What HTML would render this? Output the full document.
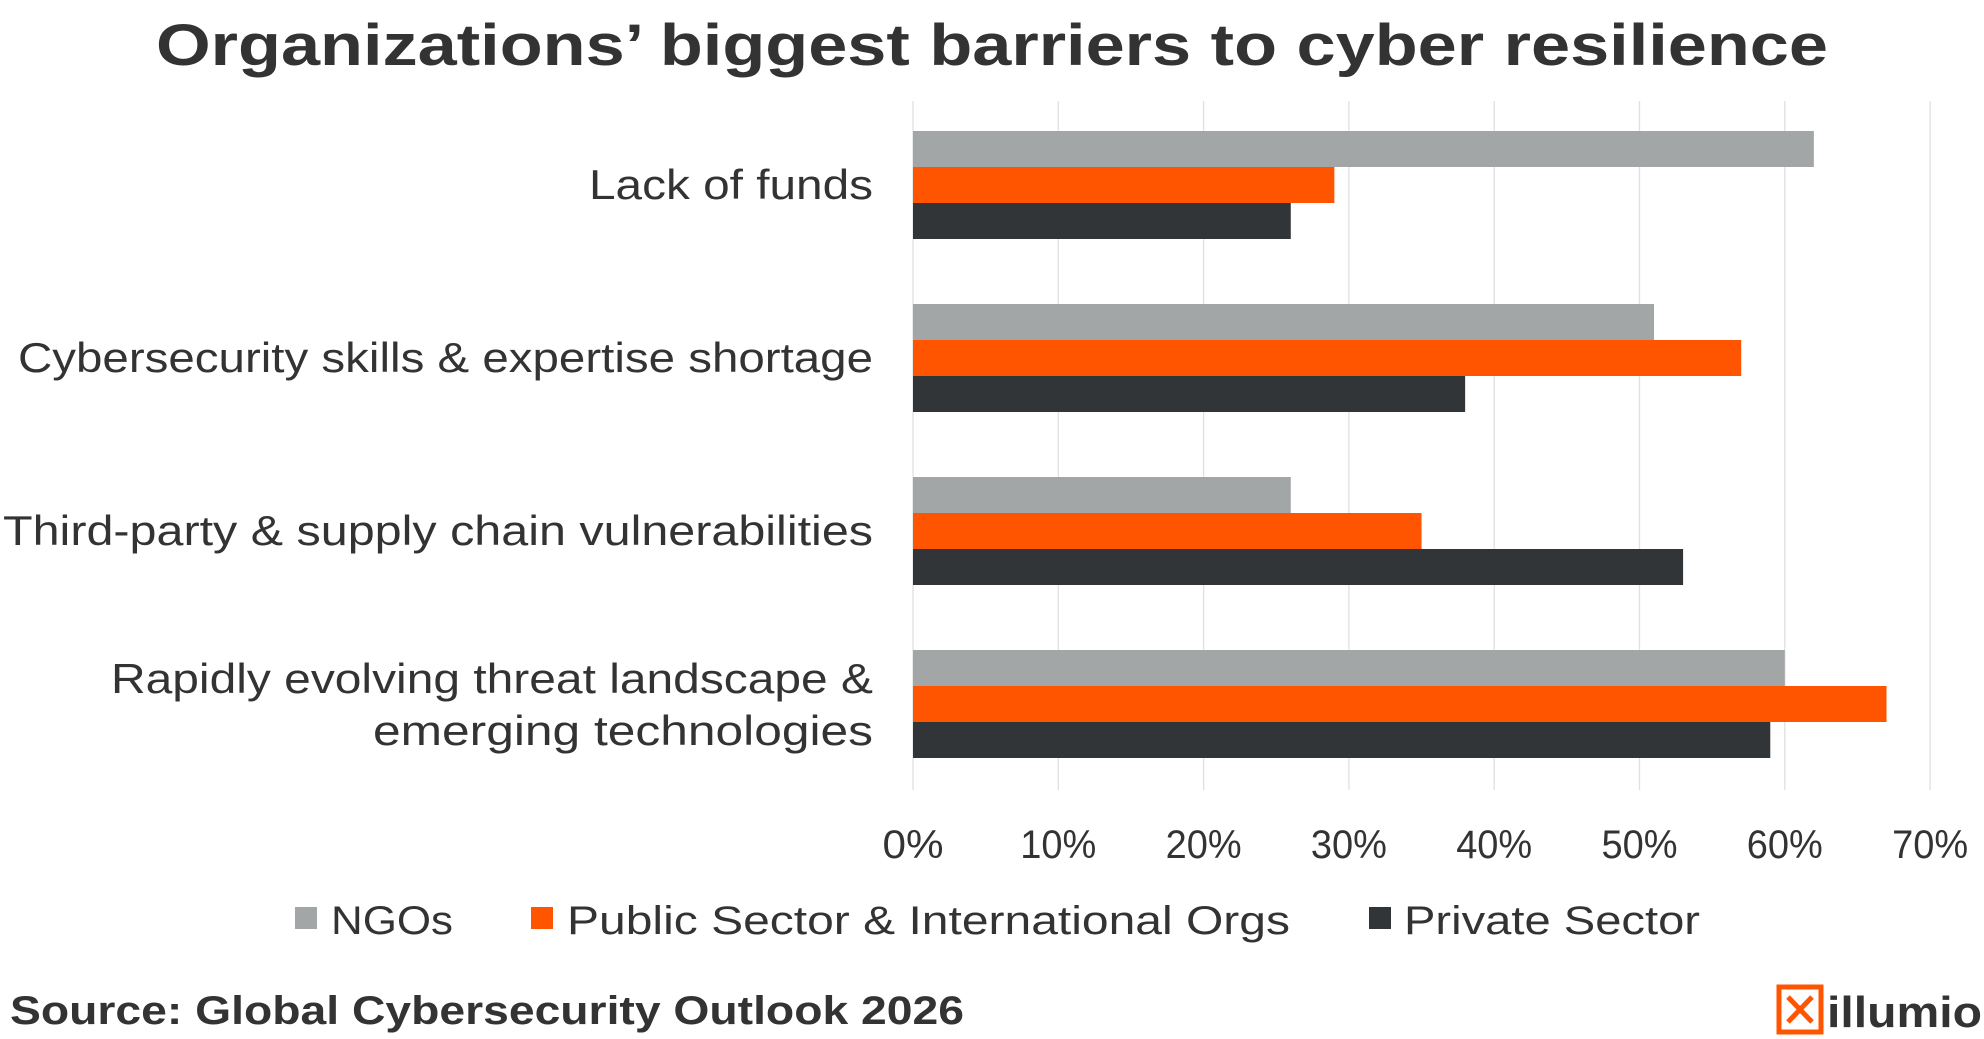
<!DOCTYPE html>
<html><head><meta charset="utf-8"><style>html,body{margin:0;padding:0;background:#fff}svg{display:block}text{font-family:"Liberation Sans",sans-serif;fill:#333}</style></head>
<body>
<svg id="chart" width="1984" height="1039" viewBox="0 0 1984 1039">
<text x="992" y="65" text-anchor="middle" font-size="58" font-weight="bold" textLength="1672" lengthAdjust="spacingAndGlyphs">Organizations’ biggest barriers to cyber resilience</text>
<g id="grid"></g>
<g id="bars"></g>
<g id="labels"></g>
<g id="ticks"></g>
<g>
<rect x="295" y="907" width="22" height="22" fill="#a3a6a6"/>
<text x="331" y="934" font-size="40" textLength="122" lengthAdjust="spacingAndGlyphs">NGOs</text>
<rect x="531" y="907" width="22" height="22" fill="#ff5500"/>
<text x="567" y="934" font-size="40" textLength="723" lengthAdjust="spacingAndGlyphs">Public Sector &amp; International Orgs</text>
<rect x="1369" y="907" width="22" height="22" fill="#323538"/>
<text x="1404" y="934" font-size="40" textLength="296" lengthAdjust="spacingAndGlyphs">Private Sector</text>
</g>
<text x="10" y="1024" font-size="40" font-weight="bold" textLength="954" lengthAdjust="spacingAndGlyphs">Source: Global Cybersecurity Outlook 2026</text>
<g>
<rect x="1779" y="987" width="42" height="45" fill="none" stroke="#ff5500" stroke-width="5"/>
<path d="M1788 997 L1812 1022 M1812 997 L1788 1022" stroke="#ff5500" stroke-width="5"/>
<text x="1827" y="1027" font-size="44" font-weight="bold" textLength="155" lengthAdjust="spacingAndGlyphs">illumio</text>
</g>
</svg>
<script>
const categories = [["Lack of funds"],["Cybersecurity skills & expertise shortage"],["Third-party & supply chain vulnerabilities"],["Rapidly evolving threat landscape &","emerging technologies"]];
const ngos = [62, 51, 26, 60];
const publicSector = [29, 57, 35, 67];
const privateSector = [26, 38, 53, 59];
const tickValues = [0,10,20,30,40,50,60,70];
const tickLabels = ["0%","10%","20%","30%","40%","50%","60%","70%"];

const NS="http://www.w3.org/2000/svg";
const x0=913, pxPer=14.53;
const xs=v=>x0+v*pxPer;
const groupTop=i=>131+i*173;
const barH=36;
function mk(tag,attrs,parent){const e=document.createElementNS(NS,tag);for(const k in attrs)e.setAttribute(k,attrs[k]);parent.appendChild(e);return e;}
const grid=document.getElementById('grid'),bars=document.getElementById('bars'),labels=document.getElementById('labels'),ticks=document.getElementById('ticks');
tickValues.forEach((v,i)=>{
  const l=mk('line',{x1:xs(v),x2:xs(v),y1:101,y2:790,stroke:'#e0e0e0','stroke-width':1.3},grid);
  
  
  const t=mk('text',{x:xs(v),y:858,'text-anchor':'middle','font-size':40,textLength:tickLabels[i].length>2?76:61,lengthAdjust:'spacingAndGlyphs'},ticks);
  t.textContent=tickLabels[i];
  
  
});
const series=[[ngos,'#a3a6a6','ngos'],[publicSector,'#ff5500','public-sector'],[privateSector,'#323538','private-sector']];
const labelWidths=[[284],[855],[870],[762,500]];
categories.forEach((lines,i)=>{
  series.forEach((s,j)=>{
    const r=mk('rect',{x:x0,y:groupTop(i)+j*barH,width:xs(s[0][i])-x0,height:barH,fill:s[1]},bars);
    
    
  });
  const cy=groupTop(i)+54;
  lines.forEach((ln,k)=>{
    const y=lines.length===1?cy+14:cy-11+k*52;
    const t=mk('text',{x:873,y:y,'text-anchor':'end','font-size':42,textLength:labelWidths[i][k],lengthAdjust:'spacingAndGlyphs'},labels);
    t.textContent=ln;
    
    
  });
});
</script>
</body></html>
